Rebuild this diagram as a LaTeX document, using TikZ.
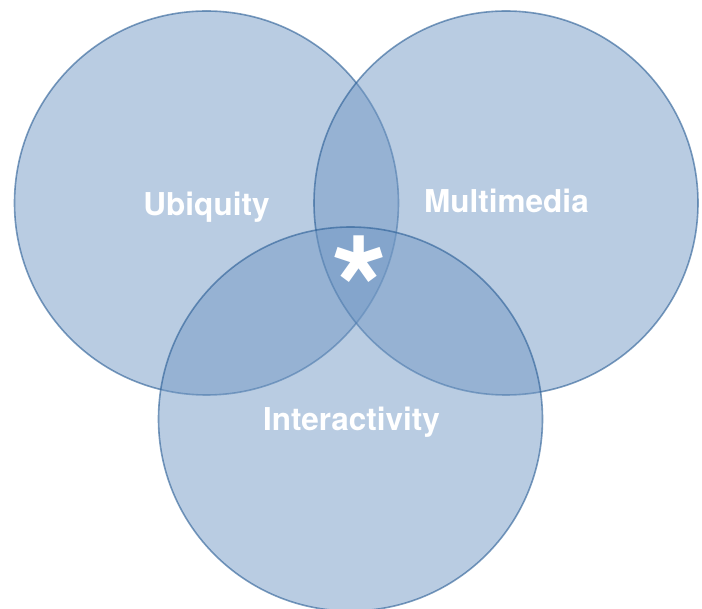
\documentclass[tikz,border=0pt]{standalone}
\usepackage{fontspec}
\setmainfont{TeX Gyre Heros}
\begin{document}
\begin{tikzpicture}[x=1pt,y=-1pt,
  setcircle/.style={circle,minimum size=384pt,inner sep=0pt,
    fill={rgb,255:red,115;green,153;blue,197},fill opacity=0.5,
    draw={rgb,255:red,40;green,92;blue,148},draw opacity=0.6,line width=1.6pt},
  setlabel/.style={text=white,font=\bfseries\fontsize{31.5}{31.5}\selectfont,inner sep=0pt,anchor=base}]
\useasboundingbox (0,0) rectangle (702,609);
\node[setcircle] (ubi) at (206.5,203) {};
\node[setcircle] (mul) at (506,203) {};
\node[setcircle] (int) at (350.5,419) {};
\node[setlabel] (lubi) at (206.5,216) {Ubiquity};
\node[setlabel] (lmul) at (506.5,213) {Multimedia};
\node[setlabel] (lint) at (351.5,431) {Interactivity};
\node[text=white,font=\bfseries\fontsize{145}{145}\selectfont,inner sep=0pt] (star) at (360,289) {*};
\end{tikzpicture}
\end{document}
